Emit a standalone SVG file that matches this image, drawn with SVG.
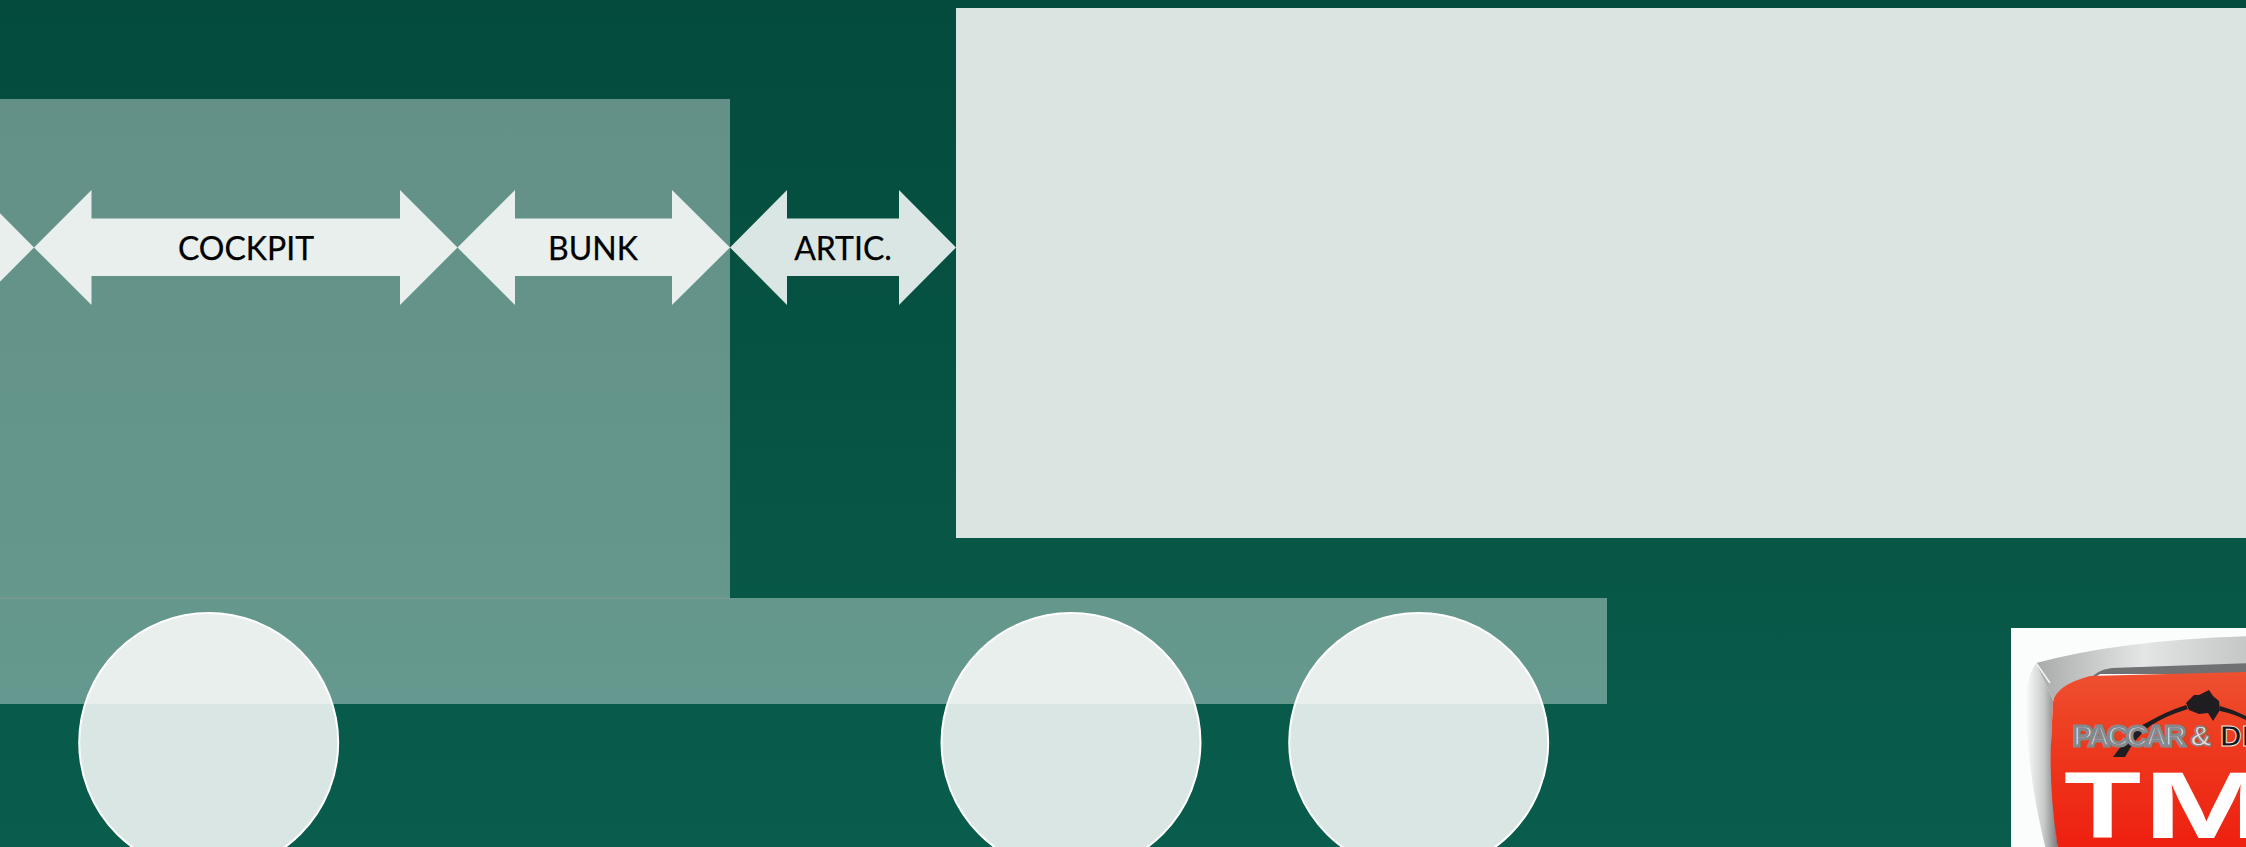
<svg xmlns="http://www.w3.org/2000/svg" width="2246" height="847" viewBox="0 0 2246 847">
<style>
.lbl{font-family:"Lato","Liberation Sans",sans-serif;font-size:32px;fill:#000;text-anchor:middle;stroke:#000;stroke-width:.25}
.wheel{fill:#dae6e3;stroke:#fff;stroke-width:2}
.arrow{fill:#dae6e3}
.veil{fill:#fff;fill-opacity:.38}
.tm{font-family:"Liberation Sans",sans-serif;font-size:95px;font-weight:700;fill:#fff}
</style>
<defs>
<linearGradient id="bg" x1="0" y1="0" x2="0" y2="1"><stop offset="0" stop-color="#044b3c"/><stop offset="1" stop-color="#095d4c"/></linearGradient>
<linearGradient id="red" x1="0" y1="0" x2="0" y2="1"><stop offset="0" stop-color="#ee5030"/><stop offset=".4" stop-color="#ee3a1e"/><stop offset="1" stop-color="#ee1f10"/></linearGradient>
<linearGradient id="chrome" x1="0" y1="0" x2="1" y2="0"><stop offset="0" stop-color="#a9abab"/><stop offset=".5" stop-color="#e4e6e6"/><stop offset="1" stop-color="#c4c6c6"/></linearGradient>
<linearGradient id="side" x1="0" y1="0" x2="1" y2="0"><stop offset="0" stop-color="#fbfbfb"/><stop offset=".55" stop-color="#c9cbcb"/><stop offset="1" stop-color="#77797a"/></linearGradient>
</defs>
<rect width="2246" height="847" fill="url(#bg)"/>
<g id="connectors">
<path class="arrow" d="M34 247.5L-23 190V305Z"/>
<path class="arrow" d="M34 247.5L91.5 190V218.5H400V190L457.5 247.5L400 305V276H91.5V305Z"/>
<path class="arrow" d="M457.5 247.5L515 190V218.5H672V190L730 247.5L672 305V276H515V305Z"/>
<path class="arrow" d="M730 247.5L787 190V218.5H899V190L956 247.5L899 305V276H787V305Z"/>
</g>
<g id="trailer"><rect x="956" y="8" width="1292" height="530" fill="#dae5e2"/></g>
<g id="wheel1"><circle class="wheel" cx="208.7" cy="742.5" r="129.5"/></g>
<g id="wheel2"><circle class="wheel" cx="1071" cy="742.5" r="129.5"/></g>
<g id="wheel3"><circle class="wheel" cx="1418.7" cy="742.5" r="129.5"/></g>
<g id="cab"><rect class="veil" x="-2" y="99" width="732" height="499"/></g>
<g id="chassis"><rect class="veil" x="-2" y="598" width="1609" height="106"/><rect x="0" y="597.5" width="730" height="1" fill="#8a9a95"/></g>
<g id="label-cockpit"><text class="lbl" x="246" y="260">COCKPIT</text></g>
<g id="label-bunk"><text class="lbl" x="593" y="260">BUNK</text></g>
<g id="label-artic"><text class="lbl" x="843" y="260">ARTIC.</text></g>
<g id="logo">
<rect x="2011" y="628" width="240" height="225" fill="#fbfcfc"/>
<path d="M2026 697Q2028 675 2036 663L2053 700L2051 743Q2052 800 2058 850H2046Q2026 770 2026 697Z" fill="url(#side)"/>
<path d="M2036 663Q2120 640 2250 636V672L2099 674L2053 700Z" fill="url(#chrome)"/>
<path d="M2036 663L2050 683" stroke="#f4f5f5" stroke-width="1.5" fill="none"/>
<path d="M2089 681Q2095 670 2112 668L2250 663V674H2100Z" fill="#6f7172"/>
<path d="M2053 702Q2056 685 2090 676L2250 672V850H2058Q2049 790 2051 743Z" fill="url(#red)"/>
<path d="M2113 757L2122 745Q2130 730 2148 722Q2165 712 2186 705L2188 709Q2165 716 2150 726Q2135 738 2125 757Z" fill="#1f1d20"/>
<path d="M2220 706Q2235 710 2250 718V722Q2235 714 2220 711Z" fill="#1f1d20"/>
<path d="M2186 703L2194 695L2199 695L2209 690L2213 696L2219 701L2220 710L2213 721L2208 713L2199 714L2189 710Z" fill="#1f1d20"/>
<text font-family="Liberation Sans,sans-serif" font-size="30" font-weight="700" y="746"><tspan x="2073" letter-spacing="-2.6" fill="#e4e5e7" stroke="#85898d" stroke-width="3">PACCAR</tspan><tspan x="2190" fill="#f0dcd8" stroke="#85807f" stroke-width="1.5">&amp;</tspan><tspan x="2220" fill="#161616" stroke="#f1e6e3" stroke-width="1">DE</tspan></text>
<text class="tm" transform="translate(2064 838) scale(1.33 1)">T</text>
<text class="tm" transform="translate(2143 838) scale(1.6 1)">M</text>
</g>
</svg>
